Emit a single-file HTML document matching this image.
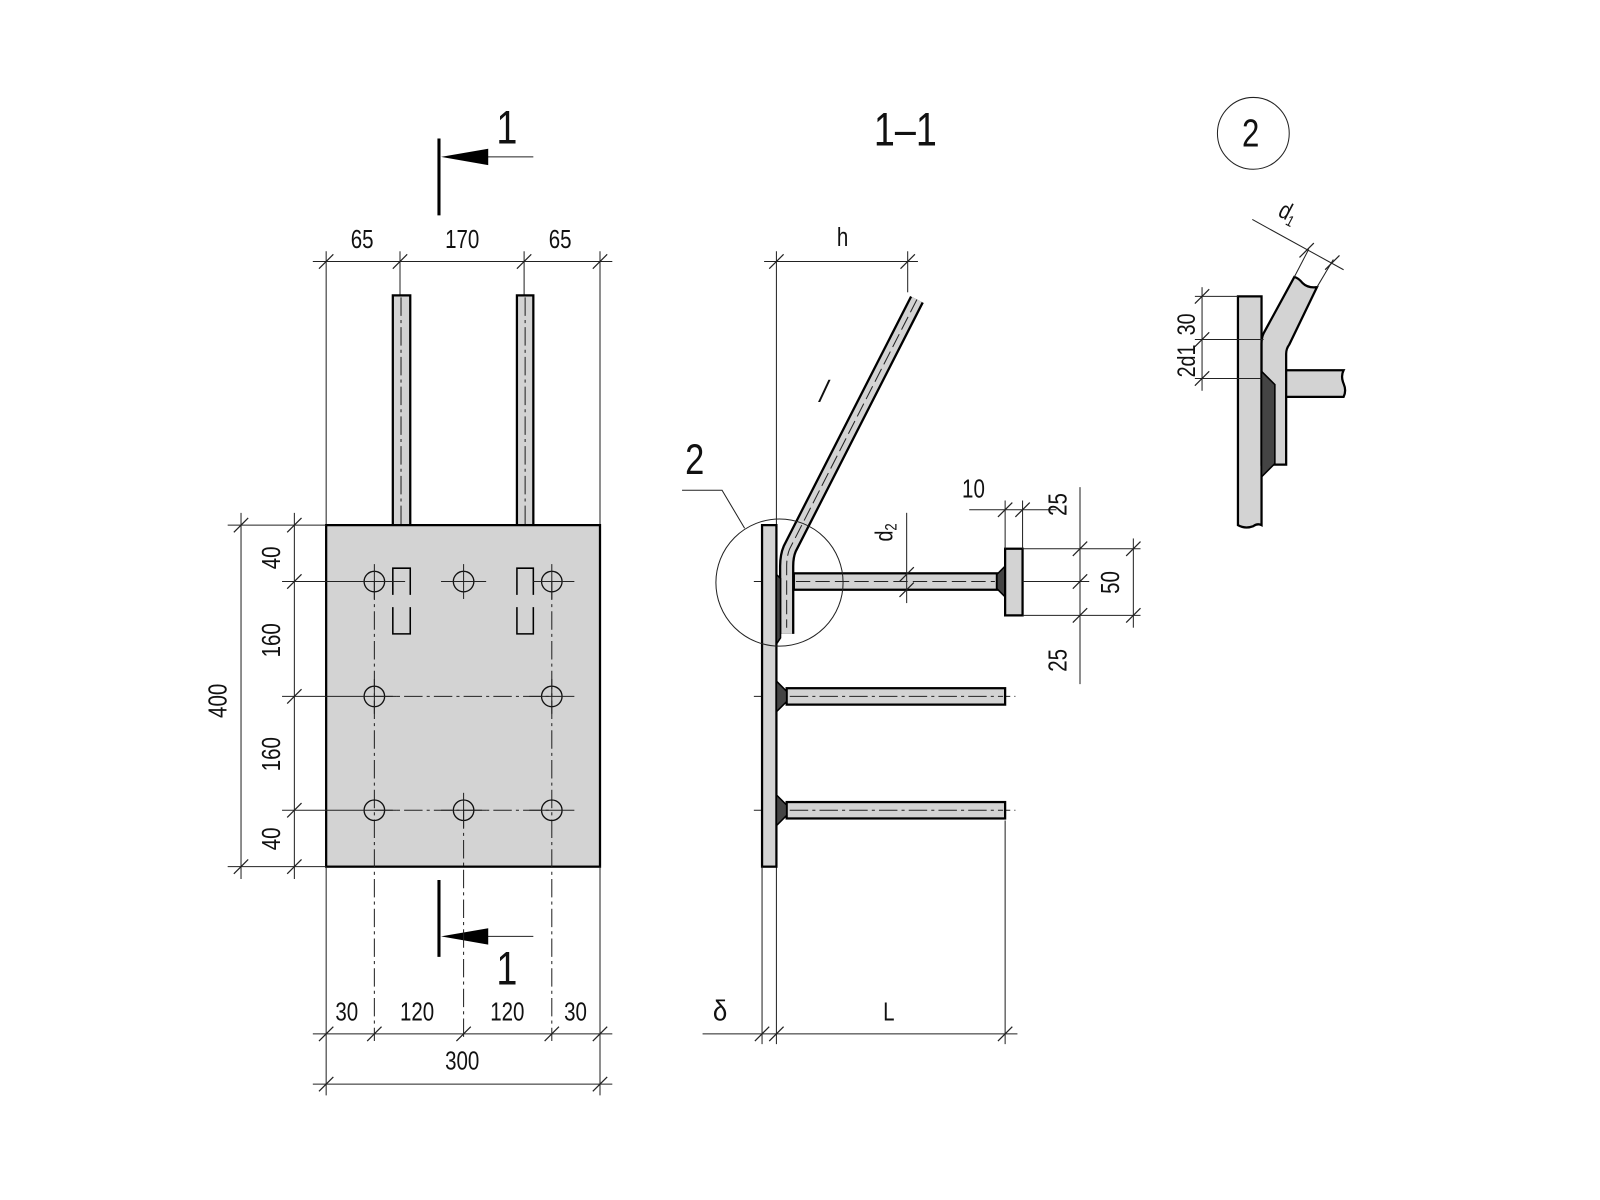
<!DOCTYPE html>
<html><head><meta charset="utf-8"><style>
html,body{margin:0;padding:0;background:#fff}
svg{display:block}
text{font-family:"Liberation Sans",sans-serif;fill:#111}
.t{stroke:#222;stroke-width:1;fill:none}
.k{stroke:#000;stroke-width:2.2;fill:#d3d3d3}
.c{stroke:#222;stroke-width:1;fill:none;stroke-dasharray:18 4 3 4}
.w{fill:#444;stroke:#000;stroke-width:1.5}
</style></head><body>
<svg width="1600" height="1200" viewBox="0 0 1560 1170" xmlns="http://www.w3.org/2000/svg">
<defs>
<path id="tk" d="M-7,7 L7,-7" stroke="#222" stroke-width="1.2"/>
</defs>

<!-- ===== LEFT VIEW ===== -->
<line x1="428" y1="135" x2="428" y2="210" stroke="#000" stroke-width="3"/>
<line x1="440" y1="153" x2="520" y2="153" class="t"/>
<polygon points="430,153 476,145 476,161" fill="#000"/>
<text transform="translate(484,140) scale(0.8,1)" font-size="46">1</text>
<line x1="428" y1="858" x2="428" y2="933" stroke="#000" stroke-width="3"/>
<line x1="440" y1="913" x2="520" y2="913" class="t"/>
<polygon points="430,913 476,905 476,921" fill="#000"/>
<text transform="translate(484,960) scale(0.8,1)" font-size="46">1</text>

<line x1="305" y1="255" x2="597" y2="255" class="t"/>
<line x1="318" y1="245" x2="318" y2="512" class="t"/>
<line x1="390" y1="245" x2="390" y2="288" class="t"/>
<line x1="511" y1="245" x2="511" y2="288" class="t"/>
<line x1="585" y1="245" x2="585" y2="512" class="t"/>
<use href="#tk" x="318" y="255"/><use href="#tk" x="390" y="255"/><use href="#tk" x="511" y="255"/><use href="#tk" x="585" y="255"/>
<text transform="translate(342,242) scale(0.8,1)" font-size="25">65</text>
<text transform="translate(434,242) scale(0.8,1)" font-size="25">170</text>
<text transform="translate(535,242) scale(0.8,1)" font-size="25">65</text>

<rect x="383" y="288" width="17" height="224" class="k"/>
<rect x="504" y="288" width="16" height="224" class="k"/>
<line x1="391" y1="290" x2="391" y2="542" class="c"/>
<line x1="512" y1="290" x2="512" y2="542" class="c"/>

<rect x="318" y="512" width="267" height="333" class="k"/>
<!-- slots (broken) -->
<g fill="none" stroke="#000" stroke-width="1.5">
<path d="M383,580 V554 H400 V580"/>
<path d="M383,592 V618 H400 V592"/>
<path d="M504,580 V554 H520 V580"/>
<path d="M504,592 V618 H520 V592"/>
</g>
<line x1="365" y1="567" x2="365" y2="1015" class="c"/>
<line x1="538" y1="567" x2="538" y2="1015" class="c"/>
<line x1="452" y1="790" x2="452" y2="1015" class="c"/>
<line x1="365" y1="679" x2="538" y2="679" class="c"/>
<line x1="365" y1="790" x2="538" y2="790" class="c"/>
<g fill="none" stroke="#111" stroke-width="1.3">
<circle cx="365" cy="567" r="10"/><circle cx="452" cy="567" r="10"/><circle cx="538" cy="567" r="10"/>
<circle cx="365" cy="679" r="10"/><circle cx="538" cy="679" r="10"/>
<circle cx="365" cy="790" r="10"/><circle cx="452" cy="790" r="10"/><circle cx="538" cy="790" r="10"/>
</g>
<g class="t">
<line x1="275" y1="567" x2="395" y2="567"/><line x1="365" y1="550" x2="365" y2="584"/>
<line x1="430" y1="567" x2="474" y2="567"/><line x1="452" y1="550" x2="452" y2="584"/>
<line x1="520" y1="567" x2="560" y2="567"/><line x1="538" y1="550" x2="538" y2="584"/>
<line x1="275" y1="679" x2="387" y2="679"/><line x1="516" y1="679" x2="560" y2="679"/>
<line x1="275" y1="790" x2="387" y2="790"/><line x1="430" y1="790" x2="474" y2="790"/><line x1="516" y1="790" x2="560" y2="790"/>
<line x1="365" y1="662" x2="365" y2="696"/><line x1="538" y1="662" x2="538" y2="696"/>
<line x1="452" y1="773" x2="452" y2="807"/>
</g>

<line x1="222" y1="512" x2="318" y2="512" class="t"/>
<line x1="222" y1="845" x2="318" y2="845" class="t"/>
<line x1="287" y1="500" x2="287" y2="857" class="t"/>
<line x1="235" y1="500" x2="235" y2="857" class="t"/>
<use href="#tk" x="287" y="512"/><use href="#tk" x="287" y="567"/><use href="#tk" x="287" y="679"/><use href="#tk" x="287" y="790"/><use href="#tk" x="287" y="845"/>
<use href="#tk" x="235" y="512"/><use href="#tk" x="235" y="845"/>
<text transform="translate(273,555) rotate(-90) scale(0.8,1)" font-size="25">40</text>
<text transform="translate(273,641) rotate(-90) scale(0.8,1)" font-size="25">160</text>
<text transform="translate(273,752) rotate(-90) scale(0.8,1)" font-size="25">160</text>
<text transform="translate(273,829) rotate(-90) scale(0.8,1)" font-size="25">40</text>
<text transform="translate(221,700) rotate(-90) scale(0.8,1)" font-size="25">400</text>

<line x1="318" y1="845" x2="318" y2="1068" class="t"/>
<line x1="585" y1="845" x2="585" y2="1068" class="t"/>
<line x1="305" y1="1008" x2="597" y2="1008" class="t"/>
<line x1="305" y1="1057" x2="597" y2="1057" class="t"/>
<use href="#tk" x="318" y="1008"/><use href="#tk" x="365" y="1008"/><use href="#tk" x="452" y="1008"/><use href="#tk" x="538" y="1008"/><use href="#tk" x="585" y="1008"/>
<use href="#tk" x="318" y="1057"/><use href="#tk" x="585" y="1057"/>
<text transform="translate(327,995) scale(0.8,1)" font-size="25">30</text>
<text transform="translate(390,995) scale(0.8,1)" font-size="25">120</text>
<text transform="translate(478,995) scale(0.8,1)" font-size="25">120</text>
<text transform="translate(550,995) scale(0.8,1)" font-size="25">30</text>
<text transform="translate(434,1043) scale(0.8,1)" font-size="25">300</text>

<!-- ===== SECTION 1-1 ===== -->
<text transform="translate(852,142) scale(0.8,1)" font-size="46">1–1</text>
<line x1="745" y1="255" x2="895" y2="255" class="t"/>
<line x1="757" y1="245" x2="757" y2="1018" class="t"/>
<line x1="885" y1="245" x2="885" y2="285" class="t"/>
<use href="#tk" x="757" y="255"/><use href="#tk" x="885" y="255"/>
<text transform="translate(816,240) scale(0.8,1)" font-size="25">h</text>

<line x1="735" y1="567" x2="1000" y2="567" class="c"/>
<line x1="735" y1="679" x2="990" y2="679" class="c"/>
<line x1="735" y1="790" x2="990" y2="790" class="c"/>

<rect x="743" y="512" width="14" height="333" class="k"/>
<path d="M894,292 L770,535 Q767,542 767,552 L767,618" fill="none" stroke="#000" stroke-width="15" stroke-linejoin="round"/>
<path d="M894,292 L770,535 Q767,542 767,552 L767,618" fill="none" stroke="#d3d3d3" stroke-width="10.5" stroke-linejoin="round"/>
<path d="M894,292 L770,535 Q767,542 767,552 L767,612" fill="none" stroke="#222" stroke-width="1" stroke-dasharray="14 5"/>
<polygon points="757,560 761,564 761,622 757,628" class="w"/>
<rect x="774" y="559" width="198" height="16" class="k"/>
<line x1="776" y1="567" x2="970" y2="567" stroke="#222" stroke-width="1" stroke-dasharray="14 5"/>
<polygon points="972,560 980,552 980,582 972,574" class="w"/>
<rect x="980" y="535" width="17" height="65" class="k"/>
<rect x="767" y="671" width="213" height="16" class="k"/>
<polygon points="757,664 767,674 767,684 757,694" class="w"/>
<rect x="767" y="782" width="213" height="16" class="k"/>
<polygon points="757,775 767,785 767,795 757,805" class="w"/>
<line x1="770" y1="679" x2="978" y2="679" class="c"/>
<line x1="770" y1="790" x2="978" y2="790" class="c"/>

<text transform="translate(796,392) skewX(-25) scale(0.8,1)" font-size="30">l</text>
<circle cx="760" cy="568" r="62" class="t"/>
<polyline points="726,515 704,478 665,478" class="t"/>
<text transform="translate(668,462) scale(0.8,1)" font-size="42">2</text>

<line x1="884" y1="500" x2="884" y2="588" class="t"/>
<use href="#tk" x="884" y="560"/><use href="#tk" x="884" y="575"/>
<text transform="translate(870,528) rotate(-90) scale(0.8,1)" font-size="24">d<tspan font-size="16" dy="4">2</tspan></text>
<line x1="945" y1="497" x2="1030" y2="497" class="t"/>
<line x1="980" y1="488" x2="980" y2="535" class="t"/>
<line x1="997" y1="488" x2="997" y2="535" class="t"/>
<use href="#tk" x="980" y="497"/><use href="#tk" x="997" y="497"/>
<text transform="translate(938,485) scale(0.8,1)" font-size="25">10</text>
<line x1="997" y1="535" x2="1112" y2="535" class="t"/>
<line x1="997" y1="600" x2="1112" y2="600" class="t"/>
<line x1="997" y1="567" x2="1062" y2="567" class="t"/>
<line x1="1053" y1="475" x2="1053" y2="667" class="t"/>
<line x1="1105" y1="525" x2="1105" y2="612" class="t"/>
<use href="#tk" x="1053" y="535"/><use href="#tk" x="1053" y="567"/><use href="#tk" x="1053" y="600"/>
<use href="#tk" x="1105" y="535"/><use href="#tk" x="1105" y="600"/>
<text transform="translate(1040,503) rotate(-90) scale(0.8,1)" font-size="25">25</text>
<text transform="translate(1040,655) rotate(-90) scale(0.8,1)" font-size="25">25</text>
<text transform="translate(1091,579) rotate(-90) scale(0.8,1)" font-size="25">50</text>

<line x1="743" y1="845" x2="743" y2="1018" class="t"/>
<line x1="980" y1="800" x2="980" y2="1018" class="t"/>
<line x1="685" y1="1008" x2="992" y2="1008" class="t"/>
<use href="#tk" x="743" y="1008"/><use href="#tk" x="757" y="1008"/><use href="#tk" x="980" y="1008"/>
<text transform="translate(695,995) scale(0.9,1)" font-size="28">δ</text>
<text transform="translate(861,995) scale(0.8,1)" font-size="25">L</text>

<!-- ===== DETAIL 2 ===== -->
<circle cx="1222" cy="130" r="35" class="t"/>
<text transform="translate(1211,143) scale(0.8,1)" font-size="38">2</text>
<path d="M1207,289 H1230 V512 Q1226,510 1222,513 Q1214,516 1207,512 Z" class="k"/>
<path d="M1254,361 H1310 Q1307,367 1310,374 Q1313,381 1310,387 H1254" class="k"/>
<path d="M1262,270 L1232,325 Q1230,329 1230,335 L1230,453 H1254 V345 Q1254,340 1257,336 L1284,280 Q1275,281 1270,276 Q1266,271 1262,270 Z" class="k"/>
<polygon points="1230,362 1243,375 1243,452 1230,465" class="w"/>
<line x1="1172" y1="280" x2="1172" y2="381" class="t"/>
<line x1="1165" y1="289" x2="1207" y2="289" class="t"/>
<line x1="1165" y1="331" x2="1232" y2="331" class="t"/>
<line x1="1165" y1="369" x2="1230" y2="369" class="t"/>
<use href="#tk" x="1172" y="289"/><use href="#tk" x="1172" y="331"/><use href="#tk" x="1172" y="369"/>
<text transform="translate(1165,327) rotate(-90) scale(0.8,1)" font-size="24">30</text>
<text transform="translate(1165,368) rotate(-90) scale(0.8,1)" font-size="24">2d1</text>
<line x1="1221" y1="214" x2="1310" y2="263" class="t"/>
<line x1="1262" y1="270" x2="1276" y2="243" class="t"/>
<line x1="1284" y1="280" x2="1300" y2="253" class="t"/>
<use href="#tk" x="1274" y="244"/><use href="#tk" x="1299" y="256"/>
<text transform="translate(1245,210) rotate(28) scale(0.8,1)" font-size="24">d<tspan font-size="15" dy="4">1</tspan></text>
</svg>
</body></html>
